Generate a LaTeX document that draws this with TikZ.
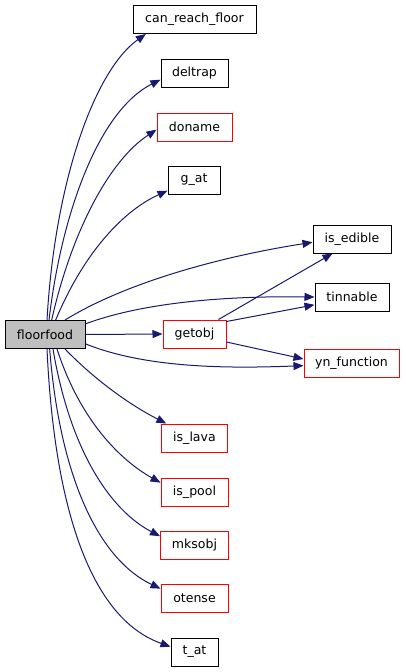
\documentclass[tikz,border=0pt]{standalone}
\usepackage{fontspec}
\setmainfont{DejaVu Sans}
\usetikzlibrary{arrows.meta}
\definecolor{edgeblue}{RGB}{25,25,112}
\definecolor{redbox}{RGB}{255,0,0}
\definecolor{greyfill}{RGB}{191,191,191}
\tikzset{
  fn/.style={draw=black, line width=0.75pt, fill=white, inner sep=0pt, minimum height=21pt, font=\fontsize{9.4pt}{11pt}\selectfont},
  fnred/.style={fn, draw=redbox},
  fnmain/.style={fn, fill=greyfill},
  call/.style={draw=edgeblue, line width=0.75pt, -{Triangle[length=7.5pt,width=6pt]}, color=edgeblue}
}
\begin{document}
\begin{tikzpicture}[x=0.75pt,y=-0.75pt]
\useasboundingbox (0,0) rectangle (405,672);
\node[fnmain, minimum width=60pt] (floorfood) at (45,334.5) {floorfood};
\node[fn, minimum width=92.25pt] (crf) at (194.5,19.5) {can\_reach\_floor};
\node[fn, minimum width=50.25pt] (deltrap) at (194.5,73) {deltrap};
\node[fnred, minimum width=56.25pt] (doname) at (194.5,127) {doname};
\node[fn, minimum width=39pt] (gat) at (194,180) {g\_at};
\node[fn, minimum width=58.5pt] (isedible) at (352,239) {is\_edible};
\node[fn, minimum width=55.5pt] (tinnable) at (352,297) {tinnable};
\node[fnred, minimum width=47.25pt] (getobj) at (194.5,334) {getobj};
\node[fnred, minimum width=71.25pt] (yn) at (351.5,363) {yn\_function};
\node[fnred, minimum width=49.5pt] (islava) at (194.5,438) {is\_lava};
\node[fnred, minimum width=50.25pt] (ispool) at (194.5,492) {is\_pool};
\node[fnred, minimum width=51pt] (mksobj) at (194.5,545.5) {mksobj};
\node[fnred, minimum width=50.25pt] (otense) at (194.5,598) {otense};
\node[fn, minimum width=35.25pt] (tat) at (194.5,652) {t\_at};

\draw[call] ([xshift=1.5pt]floorfood.north) .. controls (55,180) and (95,70) .. ([xshift=10pt]crf.south west);
\draw[call] ([xshift=3pt]floorfood.north) .. controls (62,210) and (100,110) .. ([yshift=-5pt]deltrap.west);
\draw[call] ([xshift=5pt]floorfood.north) .. controls (72,230) and (110,160) .. ([yshift=-2pt]doname.west);
\draw[call] ([xshift=8pt]floorfood.north) .. controls (85,250) and (125,210) .. ([yshift=-8pt]gat.west);
\draw[call] ([xshift=15pt]floorfood.north) .. controls (130,280) and (230,255) .. ([yshift=-2.5pt]isedible.west);
\draw[call] ([yshift=8pt]floorfood.east) .. controls (150,300) and (240,296) .. (tinnable.west);
\draw[call] (floorfood.east) -- (getobj.west);
\draw[call] ([yshift=-7pt]floorfood.east) .. controls (150,370) and (240,368) .. ([yshift=-2pt]yn.west);
\draw[call] ([xshift=-6pt]getobj.north east) -- ([xshift=15pt]isedible.south west);
\draw[call] ([yshift=-1.5pt]getobj.north east) -- ([yshift=5pt]tinnable.south west);
\draw[call] ([yshift=-6pt]getobj.east) -- ([yshift=3pt]yn.west);
\draw[call] ([xshift=15pt]floorfood.south) .. controls (95,380) and (130,405) .. ([xshift=4pt]islava.north west);
\draw[call] ([xshift=9pt]floorfood.south) .. controls (80,420) and (120,460) .. ([yshift=7pt]ispool.west);
\draw[call] ([xshift=6pt]floorfood.south) .. controls (70,450) and (110,510) .. ([yshift=7pt]mksobj.west);
\draw[call] ([xshift=3.5pt]floorfood.south) .. controls (60,480) and (100,560) .. ([yshift=7pt]otense.west);
\draw[call] ([xshift=1.5pt]floorfood.south) .. controls (55,520) and (95,620) .. ([yshift=4pt]tat.west);
\end{tikzpicture}
\end{document}
